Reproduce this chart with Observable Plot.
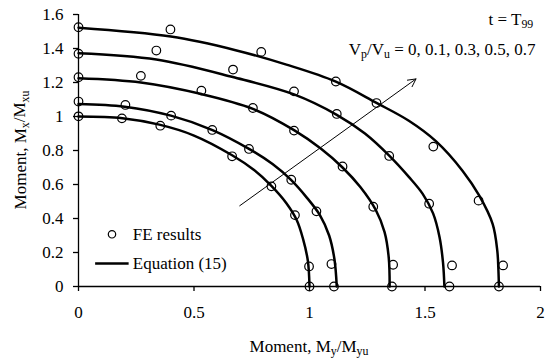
<!DOCTYPE html>
<html>
<head>
<meta charset="utf-8">
<script src="https://cdn.jsdelivr.net/npm/d3@7"></script>
<script src="https://cdn.jsdelivr.net/npm/@observablehq/plot@0.6"></script>
<style>
  body { margin: 0; background: #fff; }
  #chart svg { display: block; }
</style>
</head>
<body>
<div id="chart"></div>
<script>
// Shear ratios Vp/Vu, one interaction curve each
const shearRatios = [0, 0.1, 0.3, 0.5, 0.7];

// Equation (15) interaction curves: [My/Myu, Mx/Mxu]
const eqV00 = [[0,1.0],[0.19,0.99],[0.35,0.952],[0.5,0.888],[0.665,0.772],[0.76,0.685],[0.835,0.592],[0.9,0.49],[0.945,0.39],[0.972,0.28],[0.993,0.15],[1.0,0]];
const eqV01 = [[0,1.074],[0.2,1.058],[0.4,1.005],[0.58,0.92],[0.74,0.808],[0.84,0.72],[0.92,0.627],[0.99,0.52],[1.045,0.42],[1.085,0.3],[1.108,0.16],[1.118,0]];
const eqV03 = [[0,1.225],[0.27,1.2],[0.532,1.132],[0.755,1.045],[0.933,0.92],[1.05,0.81],[1.143,0.7],[1.22,0.585],[1.287,0.45],[1.325,0.32],[1.343,0.17],[1.347,0]];
const eqV05 = [[0,1.372],[0.337,1.335],[0.668,1.232],[0.933,1.13],[1.118,1.01],[1.24,0.9],[1.345,0.77],[1.43,0.645],[1.49,0.545],[1.535,0.43],[1.563,0.29],[1.578,0.14],[1.584,0]];
const eqV07 = [[0,1.522],[0.4,1.47],[0.68,1.39],[0.9,1.305],[1.114,1.205],[1.29,1.08],[1.43,0.975],[1.547,0.855],[1.663,0.68],[1.735,0.534],[1.793,0.367],[1.813,0.21],[1.818,0.09],[1.82,0]];

// FE results
const feV00 = [[0,1.001],[0.188,0.989],[0.354,0.946],[0.665,0.766],[0.835,0.589],[0.937,0.42],[0.998,0.118],[1.0,0]];
const feV01 = [[0,1.088],[0.203,1.068],[0.401,1.005],[0.579,0.921],[0.738,0.809],[0.921,0.628],[1.03,0.442],[1.095,0.132],[1.106,0]];
const feV03 = [[0,1.231],[0.27,1.239],[0.532,1.152],[0.755,1.05],[0.933,0.917],[1.143,0.706],[1.276,0.469],[1.362,0.128],[1.357,0]];
const feV05 = [[0,1.369],[0.337,1.388],[0.669,1.276],[0.933,1.148],[1.118,1.015],[1.345,0.768],[1.518,0.487],[1.617,0.124],[1.606,0]];
const feV07 = [[0,1.525],[0.398,1.512],[0.791,1.38],[1.114,1.206],[1.29,1.079],[1.536,0.823],[1.732,0.505],[1.838,0.124],[1.82,0]];

// Axis ticks
const xTicks = [0, 0.5, 1, 1.5, 2];
const yTicks = [0, 0.2, 0.4, 0.6, 0.8, 1, 1.2, 1.4, 1.6];

// Arrow showing increasing Vp/Vu: [My/Myu, Mx/Mxu] from -> to
const trendArrow = [[0.698, 0.475], [1.461, 1.221]];

const eqSets = [eqV00, eqV01, eqV03, eqV05, eqV07];
const feSets = [feV00, feV01, feV03, feV05, feV07];
const eqRows = eqSets.flatMap((pts, i) => pts.map(([x, y]) => ({x, y, v: shearRatios[i]})));
const feRows = feSets.flatMap((pts, i) => pts.map(([x, y]) => ({x, y, v: shearRatios[i]})));

const serif = "Liberation Serif, Times New Roman, Times, serif";
const fmt = d => String(Math.round(d * 10) / 10);

const plot = Plot.plot({
  width: 545,
  height: 363,
  marginLeft: 78,
  marginRight: 5,
  marginTop: 14,
  marginBottom: 77,
  x: {domain: [0, 2]},
  y: {domain: [0, 1.6]},
  style: {fontFamily: serif, fontSize: "17px", color: "#000", background: "#fff", overflow: "visible"},
  marks: [
    Plot.axisX(xTicks, {tickSize: 5, tickPadding: 14, tickFormat: fmt, label: null, strokeWidth: 1.3,
      fontFamily: serif, fontSize: 17, fontVariant: "normal"}),
    Plot.axisY(yTicks, {tickSize: 5, tickPadding: 10, tickFormat: fmt, label: null, strokeWidth: 1.3,
      fontFamily: serif, fontSize: 17, fontVariant: "normal"}),
    Plot.ruleY([0], {stroke: "#000", strokeWidth: 1.3}),
    Plot.ruleX([0], {y1: 0, y2: 1.6, stroke: "#000", strokeWidth: 1.3}),
    Plot.line(eqRows, {x: "x", y: "y", z: "v", curve: "catmull-rom", stroke: "#000", strokeWidth: 2.5}),
    Plot.dot(feRows, {x: "x", y: "y", r: 4.3, stroke: "#000", strokeWidth: 1.2, fill: "none"}),
    Plot.arrow([trendArrow], {
      x1: d => d[0][0], y1: d => d[0][1], x2: d => d[1][0], y2: d => d[1][1],
      stroke: "#000", strokeWidth: 1, headLength: 13, headAngle: 55
    }),
    // legend
    Plot.dot([{x: 0.145, y: 0.307}], {x: "x", y: "y", r: 3.7, stroke: "#000", strokeWidth: 1.2, fill: "none"}),
    Plot.link([{x1: 0.072, x2: 0.217, y: 0.135}], {x1: "x1", x2: "x2", y1: "y", y2: "y", stroke: "#000", strokeWidth: 2.5}),
    Plot.text([{x: 0.235, y: 0.273, t: "FE results"}, {x: 0.235, y: 0.102, t: "Equation (15)"}],
      {x: "x", y: "y", text: "t", textAnchor: "start", lineAnchor: "bottom", fontSize: 17, fontFamily: serif, fill: "#000"})
  ]
});

document.getElementById("chart").appendChild(plot);

// Labels with subscripts
const svg = d3.select(plot);
const X = plot.scale("x"), Y = plot.scale("y");

function richText(sel, parts) {
  let shifted = false;
  parts.forEach(([s, sub]) => {
    const t = sel.append("tspan").text(s);
    if (sub && !shifted) { t.attr("font-size", "0.7em").attr("dy", "0.28em"); shifted = true; }
    else if (!sub && shifted) { t.attr("dy", "-0.2em"); shifted = false; }
    else if (sub) t.attr("font-size", "0.7em");
  });
  return sel;
}

const labels = svg.append("g")
  .attr("font-family", serif)
  .attr("font-size", 17)
  .attr("fill", "#000");

richText(labels.append("text")
  .attr("x", (X.apply(0) + X.apply(2)) / 2)
  .attr("y", Y.apply(0) + 66)
  .attr("text-anchor", "middle"),
  [["Moment, M"], ["y", true], ["/M"], ["yu", true]]);

richText(labels.append("text")
  .attr("transform", `translate(25.5,${(Y.apply(0) + Y.apply(1.6)) / 2}) rotate(-90)`)
  .attr("text-anchor", "middle"),
  [["Moment, M"], ["x", true], ["/M"], ["xu", true]]);

richText(labels.append("text")
  .attr("x", X.apply(1.971))
  .attr("y", Y.apply(1.535))
  .attr("text-anchor", "end"),
  [["t = T"], ["99", true]]);

richText(labels.append("text")
  .attr("x", X.apply(1.981))
  .attr("y", Y.apply(1.359))
  .attr("text-anchor", "end"),
  [["V"], ["p", true], ["/V"], ["u", true], [" = 0, 0.1, 0.3, 0.5, 0.7"]]);
</script>
</body>
</html>
